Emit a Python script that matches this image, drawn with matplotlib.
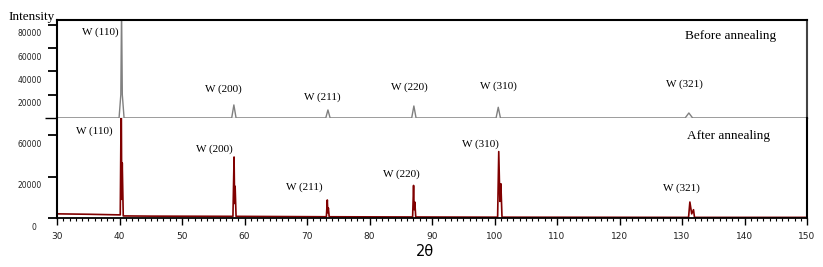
import matplotlib
matplotlib.use("Agg")
import matplotlib.pyplot as plt
from matplotlib.ticker import MultipleLocator, FixedLocator, NullFormatter
from matplotlib import transforms

# ---- data ----
before_2theta = [30, 39.93, 40.21, 40.33, 40.45, 40.73,
                 57.95, 58.3, 58.65,
                 73.0, 73.35, 73.7,
                 86.75, 87.1, 87.45,
                 100.25, 100.6, 100.95,
                 130.5, 131.1, 131.7, 150]
before_counts = [0, 0, 20000, 95000, 20000, 0,
                 0, 11200, 0,
                 0, 6900, 0,
                 0, 10300, 0,
                 0, 9200, 0,
                 0, 4300, 0, 0]

after_2theta = [30, 35, 40.12, 40.28, 40.36, 40.44, 40.6, 45,
                58.15, 58.33, 58.42, 58.5, 58.65,
                73.1, 73.25, 73.33, 73.42, 73.55,
                86.9, 87.05, 87.15, 87.25, 87.4,
                100.5, 100.68, 100.86, 101.02, 101.2,
                131.05, 131.26, 131.55, 131.84, 132.0, 150]
after_counts = [2000, 1800, 1500, 60000, 9000, 26500, 1000, 900,
                800, 29400, 7000, 15300, 800,
                600, 8700, 2500, 4800, 600,
                500, 15700, 4000, 7700, 500,
                400, 32000, 8000, 16500, 400,
                300, 7700, 2000, 4000, 300, 300]

peak_names = ["W (110)", "W (200)", "W (211)", "W (220)", "W (310)", "W (321)"]

# label anchor positions (data coords of each panel)
before_lbl_x = [36.87, 56.69, 72.43, 86.33, 100.71, 130.35]
before_lbl_y = [73700, 24900, 18000, 26600, 27400, 29100]
after_lbl_x = [35.91, 55.17, 69.63, 85.13, 97.75, 129.87]
after_lbl_y = [41900, 33300, 14900, 21200, 35700, 14500]

before_yticks = [0, 20000, 40000, 60000, 80000]
before_ylabels = ["", "20000", "40000", "60000", "80000"]
after_yticks = [0, 20000, 40000]
after_ylabels = ["0", "20000", "60000"]

W, H = 823, 267
fig = plt.figure(figsize=(W / 100, H / 100), dpi=100)
x0, x1 = 57 / W, 807 / W
ax_top = fig.add_axes([x0, (H - 118) / H, x1 - x0, 98 / H])
ax_bot = fig.add_axes([x0, (H - 218) / H, x1 - x0, 100 / H])

serif = "Liberation Serif"

# ---- upper panel: before annealing ----
ax_top.plot(before_2theta, before_counts, color="#808080", lw=1.0)
ax_top.set_xlim(30, 150)
ax_top.set_ylim(0, 84000)
ax_top.set_xticks([])
for s in ["top", "left"]:
    ax_top.spines[s].set_linewidth(1.5)
    ax_top.spines[s].set_color("black")
ax_top.spines["right"].set_linewidth(1.5)
ax_top.spines["right"].set_color("#444444")
ax_top.spines["bottom"].set_color("#808080")
ax_top.spines["bottom"].set_linewidth(1.0)
ax_top.yaxis.set_major_locator(FixedLocator(before_yticks))
ax_top.yaxis.set_major_formatter(NullFormatter())
ax_top.tick_params(axis="y", direction="out", length=6.5, width=1.3, color="black")
t0 = ax_top.yaxis.get_major_ticks()[0]
t0.tick1line.set_color("#808080")
t0.tick1line.set_markersize(8.5)
t0.tick1line.set_markeredgewidth(1.0)

for name, lx, ly in zip(peak_names, before_lbl_x, before_lbl_y):
    ax_top.text(lx, ly, name, family=serif, fontsize=8, ha="center", va="center")
ax_top.text(137.7, 70300, "Before annealing", family=serif, fontsize=9.5,
            ha="center", va="center")

# ---- lower panel: after annealing ----
ax_bot.plot(after_2theta, after_counts, color="#800000", lw=1.2)
ax_bot.set_xlim(30, 150)
ax_bot.set_ylim(0, 48200)
ax_bot.spines["top"].set_visible(False)
for s in ["left", "right"]:
    ax_bot.spines[s].set_linewidth(1.5)
    ax_bot.spines[s].set_color("black")
ax_bot.spines["bottom"].set_linewidth(1.3)
ax_bot.yaxis.set_major_locator(FixedLocator(after_yticks))
ax_bot.yaxis.set_major_formatter(NullFormatter())
ax_bot.tick_params(axis="y", direction="out", length=6.5, width=1.3)
ax_bot.xaxis.set_major_locator(MultipleLocator(10))
ax_bot.xaxis.set_minor_locator(MultipleLocator(1))
ax_bot.tick_params(axis="x", which="major", direction="out", length=5, width=1.0,
                   labelsize=6.5, pad=5)
ax_bot.tick_params(axis="x", which="minor", direction="out", length=2, width=0.8)
for lbl in ax_bot.get_xticklabels():
    lbl.set_color("#222222")

for name, lx, ly in zip(peak_names, after_lbl_x, after_lbl_y):
    ax_bot.text(lx, ly, name, family=serif, fontsize=8, ha="center", va="center")
ax_bot.text(137.46, 39500, "After annealing", family=serif, fontsize=9.5,
            ha="center", va="center")

# y tick labels sit a bit below their ticks in the original
for ax, ticks, labels in [(ax_top, before_yticks, before_ylabels),
                          (ax_bot, after_yticks, after_ylabels)]:
    for v, lab in zip(ticks, labels):
        dx = -21 if lab == "0" else -15
        tr = transforms.offset_copy(ax.get_yaxis_transform(), fig=fig,
                                    x=dx, y=-9, units="dots")
        ax.text(0, v, lab, transform=tr, ha="right", va="center",
                fontsize=5.5, color="#222222", clip_on=False)

fig.text(32 / W, 1 - 17 / H, "Intensity", family=serif, fontsize=9.5,
         ha="center", va="center")
fig.text(424.5 / W, 1 - 252 / H, "2θ", fontsize=10.5, ha="center", va="center")

fig.savefig("out.png", dpi=100)
